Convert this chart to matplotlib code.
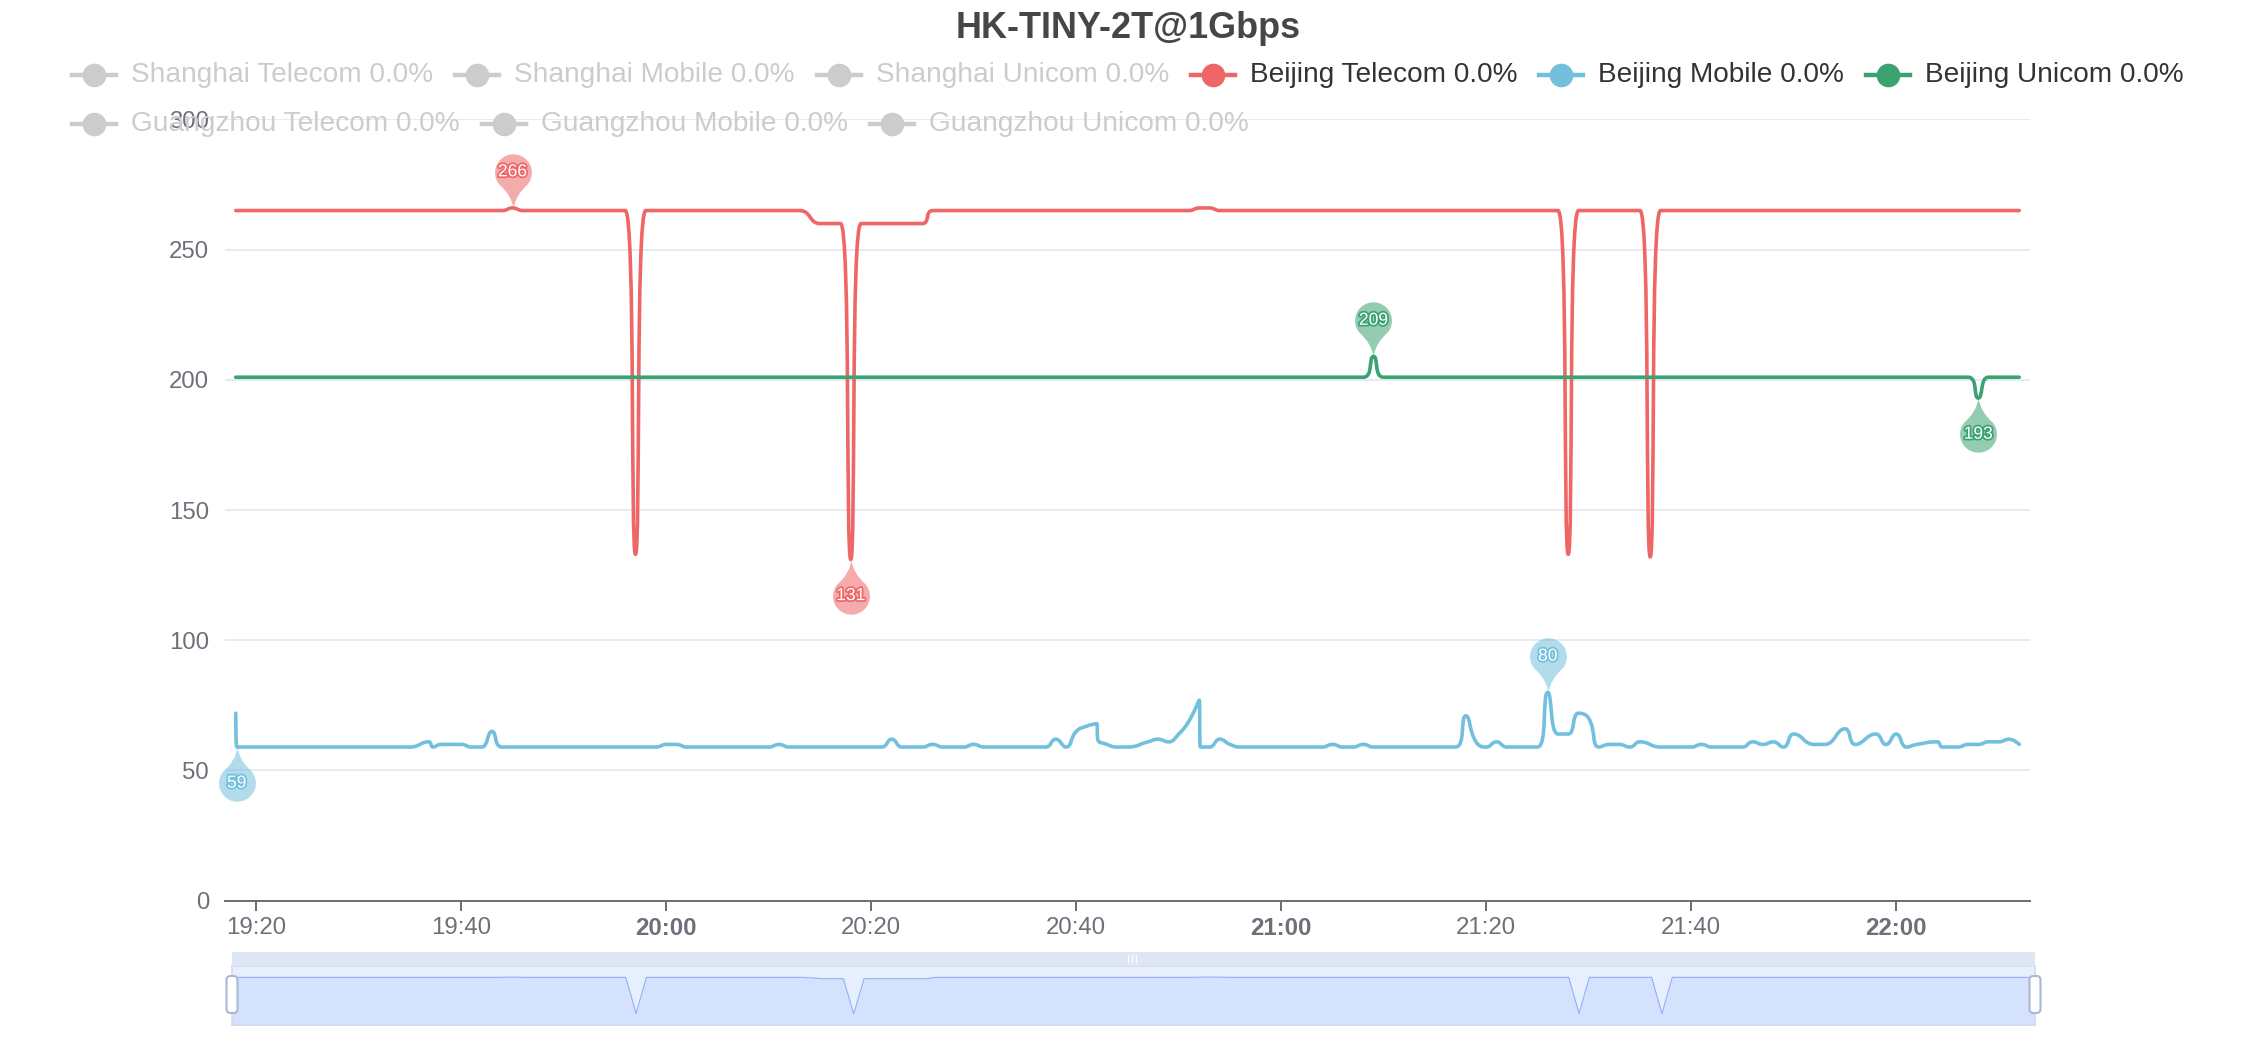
import numpy as np
import matplotlib
matplotlib.use("Agg")
import matplotlib.pyplot as plt
import matplotlib.dates as mdates
import matplotlib.patheffects as pe
from matplotlib.path import Path
from matplotlib.lines import Line2D
from matplotlib.patches import Rectangle, FancyBboxPatch, PathPatch
from datetime import datetime

plt.rcParams['font.family'] = ['Liberation Sans', 'DejaVu Sans']

W, H = 2256, 1040
DAY = "2024-01-01 "

title = "HK-TINY-2T@1Gbps"
legend_names = ["Shanghai Telecom", "Shanghai Mobile", "Shanghai Unicom",
                "Beijing Telecom", "Beijing Mobile", "Beijing Unicom",
                "Guangzhou Telecom", "Guangzhou Mobile", "Guangzhou Unicom"]
legend_loss = [0.0, 0.0, 0.0, 0.0, 0.0, 0.0, 0.0, 0.0, 0.0]
legend_active = [False, False, False, True, True, True, False, False, False]
palette = ['#5470c6', '#91cc75', '#fac858', '#ee6666', '#73c0de', '#3ba272',
           '#fc8452', '#9a60b4', '#ea7ccc']

# Beijing Telecom
bjt_time = ["19:18", "19:44", "19:45", "19:46", "19:56", "19:57", "19:58",
            "20:13", "20:15", "20:17", "20:18", "20:19", "20:25", "20:26",
            "20:51", "20:52", "20:53", "20:54", "21:27", "21:28", "21:29",
            "21:35", "21:36", "21:37", "22:12"]
bjt_val = [265, 265, 266, 265, 265, 133, 265,
           265, 260, 260, 131, 260, 260, 265,
           265, 266, 266, 265, 265, 133, 265,
           265, 132, 265, 265]

# Beijing Mobile
bjm_time = ["19:18:00", "19:18:06", "19:35", "19:36:50", "19:37:15", "19:38", "19:40",
            "19:41", "19:42", "19:43", "19:44", "19:59", "20:00", "20:01", "20:02",
            "20:10", "20:11", "20:12", "20:21", "20:22", "20:23", "20:25", "20:26",
            "20:27", "20:29", "20:30", "20:31", "20:37", "20:38", "20:39", "20:40",
            "20:41", "20:42", "20:42:06", "20:43", "20:44", "20:45", "20:47", "20:48",
            "20:49", "20:50", "20:51", "20:52", "20:52:06", "20:53", "20:54", "20:55",
            "20:56", "21:04", "21:05", "21:06", "21:07", "21:08", "21:09", "21:17",
            "21:18", "21:19", "21:20", "21:21", "21:22", "21:25", "21:26", "21:27",
            "21:28", "21:29", "21:30", "21:31", "21:32", "21:33", "21:34", "21:35",
            "21:37", "21:40", "21:41", "21:42", "21:45", "21:46", "21:47", "21:48",
            "21:49", "21:50", "21:52", "21:53", "21:55", "21:56", "21:58", "21:59",
            "22:00", "22:01", "22:02", "22:04", "22:04:30", "22:06", "22:07", "22:08",
            "22:09", "22:10", "22:11", "22:12"]
bjm_val = [72, 59, 59, 61, 59, 60, 60,
           59, 59, 65, 59, 59, 60, 60, 59,
           59, 60, 59, 59, 62, 59, 59, 60,
           59, 59, 60, 59, 59, 62, 59, 65,
           67, 68, 62, 60, 59, 59, 61, 62,
           61, 64, 69, 77, 59, 59, 62, 60,
           59, 59, 60, 59, 59, 60, 59, 59,
           71, 61, 59, 61, 59, 59, 80, 64,
           64, 72, 70, 59, 60, 60, 59, 61,
           59, 59, 60, 59, 59, 61, 60, 61,
           59, 64, 60, 60, 66, 60, 64, 60,
           64, 59, 60, 61, 59, 59, 60, 60,
           61, 61, 62, 60]

# Beijing Unicom
bju_time = ["19:18", "21:08", "21:09", "21:10", "22:07", "22:08", "22:09", "22:12"]
bju_val = [201, 201, 209, 201, 201, 193, 201, 201]

y_ticks = [0, 50, 100, 150, 200, 250, 300]


def to_num(times):
    out = []
    for s in times:
        fmt = "%Y-%m-%d %H:%M:%S" if s.count(":") == 2 else "%Y-%m-%d %H:%M"
        out.append(mdates.date2num(datetime.strptime(DAY + s, fmt)))
    return np.array(out)


def fx(x):
    return x / W


def fy(y):
    return 1 - y / H


def clamp(a, b, c):
    return max(min(a, max(b, c)), min(b, c))


def smooth_line(ax, t, v, smooth=0.5):
    # same bezier smoothing idea as the echarts line, done in pixel space
    pts = ax.transData.transform(np.column_stack([t, v]))
    verts = [tuple(pts[0])]
    codes = [Path.MOVETO]
    cp0 = tuple(pts[0])
    px, py = pts[0]
    n = len(pts)
    for i in range(1, n):
        x, y = pts[i]
        if (x - px) ** 2 + (y - py) ** 2 < 0.5:
            continue
        if i == n - 1:
            c1 = (x, y)
            ncp = (x, y)
        else:
            nx, ny = pts[i + 1]
            lp = np.hypot(x - px, y - py)
            ln = np.hypot(nx - x, ny - y)
            r = ln / (ln + lp)
            vx, vy = nx - px, ny - py
            ncx = clamp(x + vx * smooth * r, nx, x)
            ncy = clamp(y + vy * smooth * r, ny, y)
            vx, vy = ncx - x, ncy - y
            c1x = clamp(x - vx * lp / ln, px, x)
            c1y = clamp(y - vy * lp / ln, py, y)
            vx, vy = x - c1x, y - c1y
            c1 = (c1x, c1y)
            ncp = (x + vx * ln / lp, y + vy * ln / lp)
        verts += [cp0, c1, (x, y)]
        codes += [Path.CURVE4] * 3
        cp0 = ncp
        px, py = x, y
    data_verts = ax.transData.inverted().transform(np.array(verts))
    return Path(data_verts, codes)


def pin_path(flip=False):
    r = 0.34
    cy = 1 - r
    ang = np.linspace(np.deg2rad(-40), np.deg2rad(220), 60)
    arc = np.column_stack([r * np.cos(ang), cy + r * np.sin(ang)])
    verts = [(0, 0), (0.04, 0.25), tuple(arc[0])] + [tuple(p) for p in arc[1:]] + \
            [(-0.04, 0.25), (0, 0), (0, 0)]
    codes = [Path.MOVETO, Path.CURVE3, Path.CURVE3] + [Path.LINETO] * (len(arc) - 1) + \
            [Path.CURVE3, Path.CURVE3, Path.CLOSEPOLY]
    verts = np.array(verts, dtype=float)
    if flip:
        verts[:, 1] *= -1
    return Path(verts, codes)


series = [
    (to_num(bjt_time), np.array(bjt_val), palette[3]),
    (to_num(bjm_time), np.array(bjm_val), palette[4]),
    (to_num(bju_time), np.array(bju_val), palette[5]),
]

fig = plt.figure(figsize=(W / 100, H / 100), dpi=100)
ax = fig.add_axes([fx(225), fy(900.7), fx(2030 - 225), (900.7 - 119.4) / H])

one_min = 1 / 1440
t_start = series[0][0][0]
t_end = series[0][0][-1]
ax.set_xlim(t_start - 1.05 * one_min, t_end + 1.05 * one_min)
ax.set_ylim(0, 300)
ax.set_yticks(y_ticks)
ax.grid(axis='y', color='#E0E6F1', lw=1.2)
ax.set_axisbelow(True)
for s in ['left', 'right', 'top']:
    ax.spines[s].set_visible(False)
ax.spines['bottom'].set_color('#6E7079')
ax.spines['bottom'].set_linewidth(1.44)
ax.xaxis.set_major_locator(mdates.MinuteLocator(byminute=[0, 20, 40]))
ax.xaxis.set_major_formatter(mdates.DateFormatter('%H:%M'))
ax.tick_params(axis='y', length=0, pad=11.5, labelsize=17.3, labelcolor='#6E7079')
ax.tick_params(axis='x', length=7.2, width=1.44, color='#6E7079', pad=4.3,
               labelsize=17.3, labelcolor='#6E7079')

for t, v, c in series:
    ax.add_patch(PathPatch(smooth_line(ax, t, v), fill=False, ec=c, lw=2.6,
                           joinstyle='round', capstyle='round', zorder=3))

# max / min pins
for t, v, c in series:
    for idx, flip in [(int(np.argmax(v)), False), (int(np.argmin(v)), True)]:
        ax.plot([t[idx]], [v[idx]], marker=pin_path(flip), ms=78, ls='none',
                mfc=c, mec='none', alpha=0.55, clip_on=False, zorder=4)
        ax.annotate(str(v[idx]), (t[idx], v[idx]), xytext=(0, -26 if flip else 26),
                    textcoords='offset points', ha='center', va='center',
                    fontsize=12.6, color='white', annotation_clip=False, zorder=5,
                    path_effects=[pe.withStroke(linewidth=2.5, foreground=c)])

fig.canvas.draw()
for lab in ax.get_xticklabels():
    if lab.get_text().endswith(":00"):
        lab.set_fontweight('bold')

# title
fig.text(0.5, fy(28), title, ha='center', va='center', fontsize=25.9,
         fontweight='bold', color='#464646')

# legend (flow layout, rows left aligned, block centered)
renderer = fig.canvas.get_renderer()
icon_w, icon_gap, item_gap, row_h = 44, 15, 22, 49
max_w = 2200
texts = []
for name, loss, act in zip(legend_names, legend_loss, legend_active):
    txt = fig.text(0, 0, f"{name} {loss:.1f}%", fontsize=20.2,
                   color='#333333' if act else '#cccccc', va='center', ha='left')
    texts.append(txt)
widths = [t.get_window_extent(renderer).width for t in texts]
rows, cur, cur_w = [], [], 0
for i, w in enumerate(widths):
    item_w = icon_w + icon_gap + w
    add = item_w if not cur else item_gap + item_w
    if cur and cur_w + add > max_w:
        rows.append((cur, cur_w))
        cur, cur_w = [i], item_w
    else:
        cur.append(i)
        cur_w += add
rows.append((cur, cur_w))
block_w = max(rw for _, rw in rows)
x_left = (W - block_w) / 2
for r, (items, _) in enumerate(rows):
    yc = 75 + r * row_h
    x = x_left
    for i in items:
        col = palette[i] if legend_active[i] else '#cccccc'
        fig.add_artist(Line2D([fx(x), fx(x + icon_w)], [fy(yc), fy(yc)],
                              color=col, lw=3.2, transform=fig.transFigure))
        fig.add_artist(Line2D([fx(x + icon_w / 2)], [fy(yc)], marker='o', ms=16,
                              color=col, mec=col, transform=fig.transFigure))
        texts[i].set_position((fx(x + icon_w + icon_gap), fy(yc)))
        x += icon_w + icon_gap + widths[i] + item_gap

# data zoom slider
sl_l, sl_r, sl_t, sl_b = 232, 2035, 966, 1025
sl = fig.add_axes([fx(sl_l), fy(sl_b), fx(sl_r - sl_l), (sl_b - sl_t) / H])
sl.set_facecolor('#e7efff')
st, sv, _ = series[0]
ext = sv.max() - sv.min()
lo, hi = sv.min() - 0.3 * ext, sv.max() + 0.3 * ext
sl.fill_between(st, lo, sv, color='#d5e2fd', lw=0)
sl.plot(st, sv, color='#8fb0f7', lw=0.8)
sl.set_xlim(st[0], st[-1])
sl.set_ylim(lo, hi)
sl.set_xticks([])
sl.set_yticks([])
for s in sl.spines.values():
    s.set_color('#d2dbee')
    s.set_linewidth(1.2)

fig.add_artist(Rectangle((fx(sl_l), fy(sl_t)), fx(sl_r - sl_l), (sl_t - 952) / H,
                         transform=fig.transFigure, fc='#dfe6f3', ec='none'))
for gx in [1128, 1132, 1136]:
    fig.add_artist(Line2D([fx(gx), fx(gx)], [fy(955), fy(962)], color='white',
                          lw=1, transform=fig.transFigure))
for hx in [sl_l, sl_r]:
    fig.add_artist(FancyBboxPatch((hx / 100 - 0.055, (H - 1013) / 100), 0.11, 0.37,
                                  boxstyle="round,pad=0,rounding_size=0.04",
                                  transform=fig.dpi_scale_trans, fc='white',
                                  ec='#ACB8D1', lw=1.5))

fig.savefig("out.png", dpi=100)
